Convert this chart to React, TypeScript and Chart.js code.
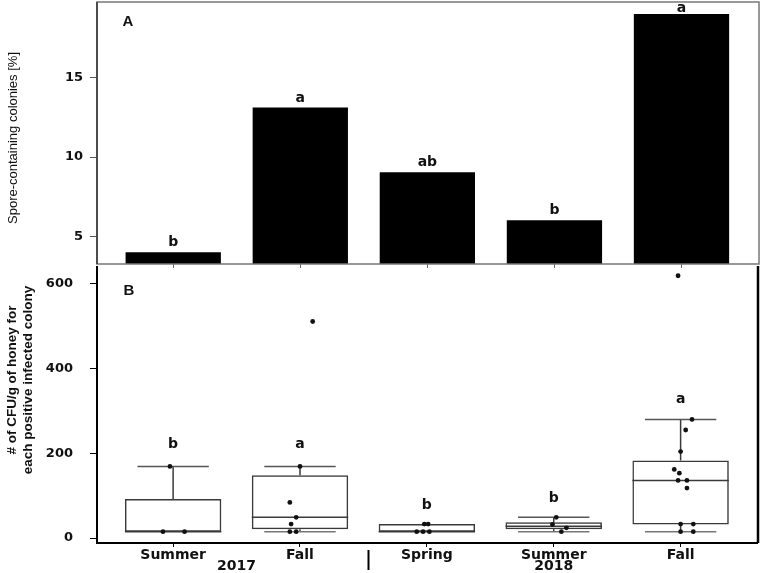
import React, { useEffect, useRef } from "react";
import { Chart, registerables } from "chart.js";

Chart.register(...registerables);

// Seasons along the shared x axis (both panels)
const SEASONS = ["Summer", "Fall", "Spring", "Summer", "Fall"];
const SEASON_POS = [1, 2, 3, 4, 5];
const YEARS = ["2017", "2018"];
const YEAR_POS = [1.5, 4];
const YEAR_DIVIDER = 2.54;
const X_MIN = 0.4;
const X_MAX = 5.61;

// Panel A: share of spore-containing colonies (%)
const SPORE_PCT = [4.05, 13.1, 9.05, 6.05, 18.95];
const SPORE_LETTERS = ["b", "a", "ab", "b", "a"];
const SPORE_TICKS = [5, 10, 15];
const SPORE_MIN = 3.31;
const SPORE_MAX = 19.7;

// Panel B: CFU/g of honey per positive colony (box summaries)
const CFU_Q1 = [15, 21, 15, 21, 32];
const CFU_MEDIAN = [15, 49, 15, 28, 136];
const CFU_Q3 = [92, 148, 33, 37, 183];
const CFU_WHISKER_LOW = [15, 15, 15, 15, 15];
const CFU_WHISKER_HIGH = [169, 169, 33, 49, 280];
const CFU_LETTERS = ["b", "a", "b", "b", "a"];
const CFU_LETTER_AT = [220, 220, 76, 94, 328];
const CFU_TICKS = [0, 200, 400, 600];
const CFU_MIN = -11.7;
const CFU_MAX = 642;

// Individual colonies: [season position with jitter, CFU/g]
const CFU_SUMMER_2017 = [[0.975, 169], [0.92, 15], [1.09, 15]];
const CFU_FALL_2017 = [[2.1, 511], [2.0, 169], [1.92, 84], [1.97, 49], [1.93, 33], [1.92, 15], [1.97, 15]];
const CFU_SPRING_2018 = [[2.98, 33], [3.01, 33], [2.92, 15], [2.97, 15], [3.02, 15]];
const CFU_SUMMER_2018 = [[4.02, 49], [3.99, 32], [4.1, 24], [4.06, 15]];
const CFU_FALL_2018 = [
  [4.98, 619], [5.09, 280], [5.04, 255], [5.0, 204], [4.95, 162], [4.99, 153],
  [4.98, 136], [5.05, 136], [5.05, 118], [5.0, 33], [5.1, 33], [5.0, 15], [5.1, 15],
];

const TICK_FONT = { family: "'DejaVu Sans', sans-serif", size: 13, weight: "bold" as const };
const TEXT = "#111";

const fixedTicks = (values: number[]) => (scale: any) => {
  scale.ticks = values.map((value) => ({ value }));
};

// y axes keep a fixed width and no extra label padding above/below
const fixedWidth = (w: number) => (s: any) => {
  s.width = w;
  s.paddingTop = 0;
  s.paddingBottom = 0;
};
const fixedHeight = (h: number) => (s: any) => {
  s.height = h;
  s.paddingLeft = 0;
  s.paddingRight = 0;
};

const sporePanel = {
  id: "sporePanel",
  afterDraw(chart: any) {
    const { ctx, chartArea: a, scales } = chart;
    const { x, y } = scales;
    ctx.save();
    // frame
    ctx.strokeStyle = "#777";
    ctx.lineWidth = 1.5;
    ctx.strokeRect(a.left, a.top, a.right - a.left, a.bottom - a.top);
    ctx.strokeStyle = "#333";
    ctx.beginPath();
    ctx.moveTo(a.left, a.top);
    ctx.lineTo(a.left, a.bottom);
    ctx.stroke();

    // significance letters above bars
    ctx.fillStyle = TEXT;
    ctx.font = "bold 14px 'DejaVu Sans', sans-serif";
    ctx.textAlign = "center";
    ctx.textBaseline = "alphabetic";
    SPORE_LETTERS.forEach((t, i) => {
      const px = x.getPixelForValue(SEASON_POS[i]);
      const py = Math.max(y.getPixelForValue(SPORE_PCT[i]) - 6, a.top + 10);
      ctx.fillText(t, px, py);
    });

    // panel tag
    ctx.font = "bold 15px 'Liberation Sans', Arial, sans-serif";
    ctx.textBaseline = "middle";
    ctx.fillText("A", a.left + 31, a.top + 20);

    // y title
    ctx.translate(13, (a.top + a.bottom) / 2 + 5);
    ctx.rotate(-Math.PI / 2);
    ctx.font = "13px 'Liberation Sans', Arial, sans-serif";
    ctx.fillText("Spore-containing colonies [%]", 0, 0);
    ctx.restore();
  },
};

const cfuBoxes = {
  id: "cfuBoxes",
  beforeDatasetsDraw(chart: any) {
    const { ctx, scales } = chart;
    const y = scales.y;
    const meta = chart.getDatasetMeta(1);
    ctx.save();
    ctx.strokeStyle = "#3a3a3a";
    ctx.lineWidth = 1.5;
    const seg = (x1: number, y1: number, x2: number, y2: number) => {
      ctx.beginPath();
      ctx.moveTo(x1, y1);
      ctx.lineTo(x2, y2);
      ctx.stroke();
    };
    meta.data.forEach((bar: any, i: number) => {
      const { x, width } = bar.getProps(["x", "width"], true);
      const half = width / 2;
      const cap = width * 0.37;
      const yq1 = y.getPixelForValue(CFU_Q1[i]);
      const yq3 = y.getPixelForValue(CFU_Q3[i]);
      const ymed = y.getPixelForValue(CFU_MEDIAN[i]);
      const ylo = y.getPixelForValue(CFU_WHISKER_LOW[i]);
      const yhi = y.getPixelForValue(CFU_WHISKER_HIGH[i]);
      seg(x - half, ymed, x + half, ymed);
      if (CFU_WHISKER_HIGH[i] > CFU_Q3[i]) {
        seg(x, yq3, x, yhi);
        ctx.strokeStyle = "#555";
        seg(x - cap, yhi, x + cap, yhi);
        ctx.strokeStyle = "#3a3a3a";
      }
      if (CFU_WHISKER_LOW[i] < CFU_Q1[i]) {
        seg(x, yq1, x, ylo);
        ctx.strokeStyle = "#777";
        seg(x - cap, ylo, x + cap, ylo);
        ctx.strokeStyle = "#3a3a3a";
      }
    });
    ctx.restore();
  },
  afterDraw(chart: any) {
    const { ctx, chartArea: a, scales } = chart;
    const { x, y } = scales;
    ctx.save();
    // axes frame (left, bottom, right)
    ctx.strokeStyle = "#000";
    ctx.lineWidth = 2;
    ctx.beginPath();
    ctx.moveTo(a.left, a.top);
    ctx.lineTo(a.left, a.bottom);
    ctx.lineTo(a.right, a.bottom);
    ctx.stroke();
    ctx.lineWidth = 2.5;
    ctx.beginPath();
    ctx.moveTo(a.right, a.top);
    ctx.lineTo(a.right, a.bottom);
    ctx.stroke();

    // significance letters
    ctx.fillStyle = TEXT;
    ctx.font = "bold 14px 'DejaVu Sans', sans-serif";
    ctx.textAlign = "center";
    ctx.textBaseline = "middle";
    CFU_LETTERS.forEach((t, i) => {
      ctx.fillText(t, x.getPixelForValue(SEASON_POS[i]), y.getPixelForValue(CFU_LETTER_AT[i]));
    });

    // panel tag
    ctx.font = "bold 15px 'Liberation Sans', Arial, sans-serif";
    ctx.fillText("B", a.left + 32, a.top + 25);

    // year row and divider
    ctx.font = "bold 14px 'DejaVu Sans', sans-serif";
    YEARS.forEach((t, i) => {
      ctx.fillText(t, x.getPixelForValue(YEAR_POS[i]), a.bottom + 23);
    });
    ctx.lineWidth = 2;
    const dx = x.getPixelForValue(YEAR_DIVIDER);
    ctx.beginPath();
    ctx.moveTo(dx, a.bottom + 7);
    ctx.lineTo(dx, a.bottom + 27);
    ctx.stroke();

    // y title (two lines)
    ctx.translate(20, a.top + 114);
    ctx.rotate(-Math.PI / 2);
    ctx.font = "bold 13.5px 'Liberation Sans', Arial, sans-serif";
    ctx.fillText("# of CFU/g of honey for", 0, -8);
    ctx.fillText("each positive infected colony", 0, 8);
    ctx.restore();
  },
};

const toPoints = (rows: number[][]) => rows.map(([x, y]) => ({ x, y }));

export default function App() {
  const topRef = useRef<HTMLCanvasElement>(null);
  const bottomRef = useRef<HTMLCanvasElement>(null);

  useEffect(() => {
    const top = new Chart(topRef.current as HTMLCanvasElement, {
      type: "bar",
      data: {
        datasets: [
          {
            data: SEASON_POS.map((x, i) => ({ x, y: SPORE_PCT[i] })) as any,
            backgroundColor: "#000",
            borderWidth: 0,
            categoryPercentage: 1,
            barPercentage: 0.75,
          },
        ],
      },
      options: {
        responsive: false,
        animation: false,
        layout: { padding: { top: 2, right: 3, left: 0, bottom: 0 } },
        plugins: { legend: { display: false }, tooltip: { enabled: false } },
        scales: {
          x: {
            type: "linear",
            min: X_MIN,
            max: X_MAX,
            bounds: "data",
            offset: false,
            afterBuildTicks: fixedTicks(SEASON_POS),
            afterFit: fixedHeight(4),
            ticks: { display: false },
            grid: { drawOnChartArea: false, offset: false, tickLength: 4, color: "#666" },
            border: { display: false },
          },
          y: {
            type: "linear",
            min: SPORE_MIN,
            max: SPORE_MAX,
            bounds: "data",
            afterBuildTicks: fixedTicks(SPORE_TICKS),
            afterFit: fixedWidth(97),
            ticks: { font: TICK_FONT, color: TEXT, padding: 7 },
            grid: { drawOnChartArea: false, tickLength: 7, color: "#555" },
            border: { display: false },
          },
        },
      } as any,
      plugins: [sporePanel],
    });

    const allPoints = [
      ...toPoints(CFU_SUMMER_2017),
      ...toPoints(CFU_FALL_2017),
      ...toPoints(CFU_SPRING_2018),
      ...toPoints(CFU_SUMMER_2018),
      ...toPoints(CFU_FALL_2018),
    ];

    const bottom = new Chart(bottomRef.current as HTMLCanvasElement, {
      type: "bar",
      data: {
        datasets: [
          {
            type: "scatter",
            data: allPoints,
            pointRadius: 2.4,
            pointBackgroundColor: "#111",
            pointBorderWidth: 0,
            order: 0,
          } as any,
          {
            type: "bar",
            data: SEASON_POS.map((x, i) => ({ x, y: [CFU_Q1[i], CFU_Q3[i]] })) as any,
            backgroundColor: "rgba(255,255,255,0)",
            borderColor: "#3a3a3a",
            borderWidth: 1.5,
            borderSkipped: false,
            categoryPercentage: 1,
            barPercentage: 0.76,
            order: 1,
          } as any,
        ],
      },
      options: {
        responsive: false,
        animation: false,
        layout: { padding: { top: 2, right: 4, left: 0, bottom: 0 } },
        plugins: { legend: { display: false }, tooltip: { enabled: false } },
        scales: {
          x: {
            type: "linear",
            min: X_MIN,
            max: X_MAX,
            bounds: "data",
            offset: false,
            afterBuildTicks: fixedTicks(SEASON_POS),
            afterFit: fixedHeight(30),
            ticks: {
              font: { ...TICK_FONT, size: 14 },
              color: TEXT,
              padding: 0,
              maxRotation: 0,
              autoSkip: false,
              callback: (_v: any, i: number) => SEASONS[i],
            },
            grid: { drawOnChartArea: false, offset: false, tickLength: 4, color: "#000" },
            border: { display: false },
          },
          y: {
            type: "linear",
            min: CFU_MIN,
            max: CFU_MAX,
            bounds: "data",
            afterBuildTicks: fixedTicks(CFU_TICKS),
            afterFit: fixedWidth(97),
            ticks: { font: TICK_FONT, color: TEXT, padding: 17 },
            grid: { drawOnChartArea: false, tickLength: 7, color: "#000" },
            border: { display: false },
          },
        },
      } as any,
      plugins: [cfuBoxes],
    });

    return () => {
      top.destroy();
      bottom.destroy();
    };
  }, []);

  return (
    <div style={{ position: "absolute", left: 0, top: 0, width: 762, height: 573, background: "#fff" }}>
      <canvas ref={topRef} width={762} height={268} style={{ position: "absolute", left: 0, top: 0 }} />
      <canvas ref={bottomRef} width={762} height={311} style={{ position: "absolute", left: 0, top: 262 }} />
    </div>
  );
}
